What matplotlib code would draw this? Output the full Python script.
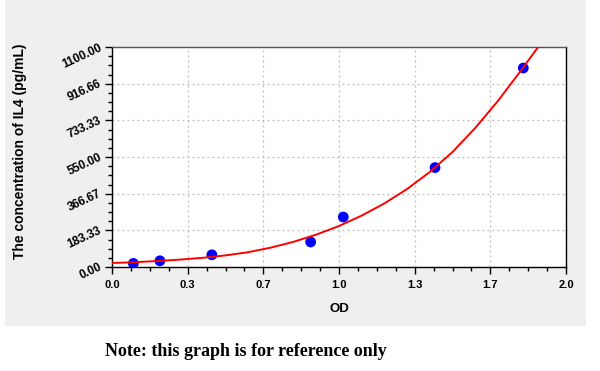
"""
Curva standard IL4: concentrazione (pg/mL) in funzione della densita' ottica (OD).
"""
import numpy as np
import matplotlib
matplotlib.use("Agg")
import matplotlib.pyplot as plt
from matplotlib.ticker import MultipleLocator, FixedLocator
from matplotlib.patches import Rectangle

# ---------------------------------------------------------------- dati
# punti standard (OD, concentrazione)
od_punti = [0.094, 0.211, 0.440, 0.875, 1.019, 1.423, 1.812]
conc_punti = [18, 31, 61, 125, 250, 497, 995]

# curva di fit
od_curva = [0.0, 0.1, 0.2, 0.3, 0.4, 0.5, 0.6, 0.7, 0.8, 0.9, 1.0,
            1.1, 1.2, 1.3, 1.4, 1.5, 1.6, 1.7, 1.8, 1.9]
conc_curva = [20, 24, 30, 37, 46, 58, 74, 97, 126, 162, 205,
              257, 318, 390, 475, 575, 695, 830, 980, 1135]

x_tick_pos = [0.0, 1 / 3, 2 / 3, 1.0, 4 / 3, 5 / 3, 2.0]
x_tick_lab = ["0.0", "0.3", "0.7", "1.0", "1.3", "1.7", "2.0"]
y_tick_pos = [0.0, 183.33, 366.67, 550.0, 733.33, 916.66, 1100.0]
y_tick_lab = ["0.00", "183.33", "366.67", "550.00", "733.33", "916.66", "1100.00"]

SANS = "Liberation Sans"

fig = plt.figure(figsize=(6.0, 3.71), dpi=100)
fig.patch.set_facecolor("white")
sfondo = Rectangle((5 / 600, 45 / 371), 581 / 600, 326 / 371,
                   transform=fig.transFigure, facecolor="#efefef",
                   edgecolor="none", zorder=-10)
fig.add_artist(sfondo)

ax = fig.add_axes([112 / 600, 104 / 371, 454 / 600, 220 / 371])
ax.set_facecolor("white")

ax.scatter(od_punti, conc_punti, s=60, color="#0000ff", marker="o",
           edgecolors="none", zorder=3)
ax.plot(od_curva, conc_curva, color="#ff0000", linewidth=1.4, zorder=4)

ax.set_xlim(0, 2)
ax.set_ylim(0, 1100)

ax.xaxis.set_major_locator(FixedLocator(x_tick_pos))
ax.xaxis.set_minor_locator(MultipleLocator(1 / 12))
ax.yaxis.set_major_locator(FixedLocator(y_tick_pos))
ax.yaxis.set_minor_locator(MultipleLocator(1100 / 24))
ax.set_xticklabels(x_tick_lab, fontsize=8, fontweight="bold", family=SANS)
ax.set_yticklabels(y_tick_lab, fontsize=8.5, fontweight="bold", family=SANS,
                   rotation=25, ha="right", va="center", rotation_mode="anchor")

ax.tick_params(axis="both", which="major", length=5, width=1, color="black", direction="out")
ax.tick_params(axis="both", which="minor", length=3, width=1, color="black", direction="out")
ax.tick_params(axis="x", which="major", pad=4)
ax.tick_params(axis="y", which="major", pad=3)

ax.grid(True, which="major", linestyle=(0, (1.5, 2.5)), color="#bdbdbd", linewidth=0.9)
for sp in ax.spines.values():
    sp.set_color("black")
    sp.set_linewidth(1)
ax.spines["top"].set_color("#555555")

ax.set_xlabel("OD", fontsize=9.5, fontweight="bold", family=SANS, labelpad=10)
ax.set_ylabel("The concentration of IL4 (pg/mL)", fontsize=10, fontweight="bold",
              family=SANS)
ax.yaxis.set_label_coords(-(112 - 27) / 454, 0.525)

fig.text(246 / 600, 1 - 351 / 371, "Note: this graph is for reference only",
         ha="center", va="center", fontsize=13, fontweight="bold",
         family="Liberation Serif")

fig.savefig("out.png", dpi=100)
